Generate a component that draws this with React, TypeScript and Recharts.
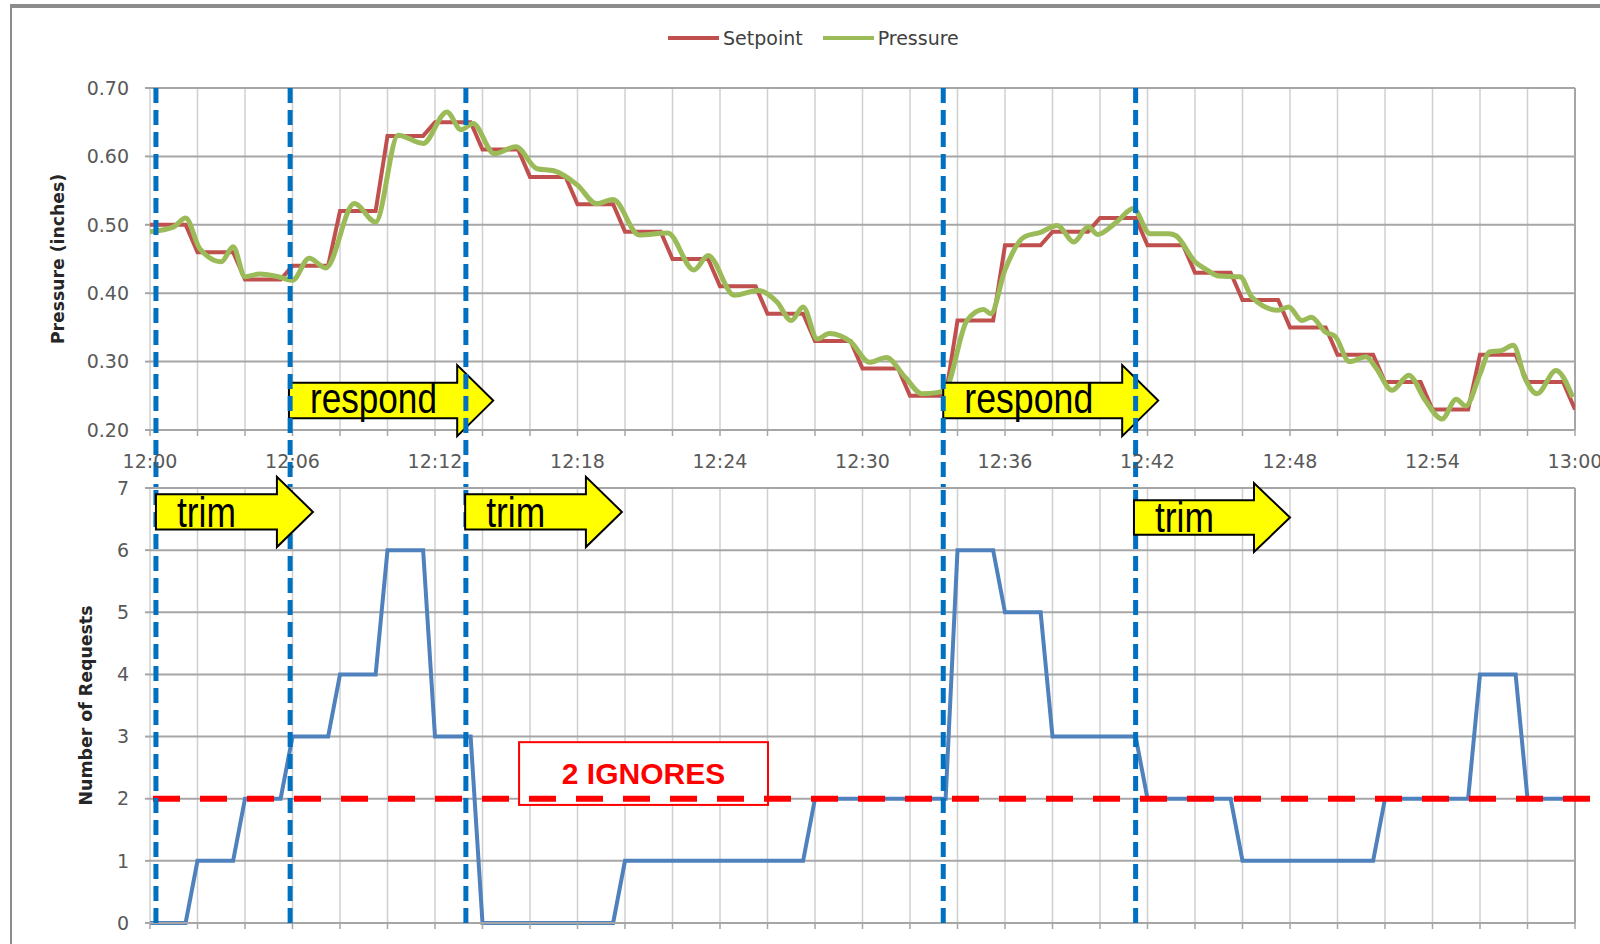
import { CartesianGrid, Line, LineChart, ReferenceArea, ReferenceLine, XAxis, YAxis } from "recharts"

// minutes after 12:00
const gridMinutes = [0, 2, 4, 6, 8, 10, 12, 14, 16, 18, 20, 22, 24, 26, 28, 30, 32, 34, 36, 38, 40, 42, 44, 46, 48, 50, 52, 54, 56, 58, 60]
const labelMinutes = [0, 6, 12, 18, 24, 30, 36, 42, 48, 54, 60]
const timeLabels = ["12:00", "12:06", "12:12", "12:18", "12:24", "12:30", "12:36", "12:42", "12:48", "12:54", "13:00"]
const pressureTicks = [0.2, 0.3, 0.4, 0.5, 0.6, 0.7]
const requestTicks = [0, 1, 2, 3, 4, 5, 6, 7]

// setpoint and request count are logged every 2 minutes
const sampleMinutes = [0, 2, 4, 6, 8, 10, 12, 14, 16, 18, 20, 22, 24, 26, 28, 30, 32, 34, 36, 38, 40, 42, 44, 46, 48, 50, 52, 54, 56, 58, 60]
const setpoint = [0.5, 0.46, 0.42, 0.44, 0.52, 0.63, 0.65, 0.61, 0.57, 0.53, 0.49, 0.45, 0.41, 0.37, 0.33, 0.29, 0.25, 0.36, 0.47, 0.49, 0.51, 0.47, 0.43, 0.39, 0.35, 0.31, 0.27, 0.23, 0.31, 0.27, 0.23]
const requests = [0, 1, 2, 3, 4, 6, 3, 0, 0, 0, 1, 1, 1, 1, 2, 2, 2, 6, 5, 3, 3, 2, 2, 1, 1, 1, 2, 2, 4, 2, 2]

// measured duct pressure
const pressureMinutes = [0, 1, 1.5, 2.1, 3, 3.5, 4, 4.6, 5.4, 6, 6.7, 7.4, 8.6, 9.5, 10.45, 11.5, 12.5, 13.1, 13.6, 14.5, 15.4, 16.3, 17, 18, 18.8, 19.5, 20.6, 21.8, 22.9, 23.5, 24.6, 25.6, 26.4, 27, 27.5, 28.1, 28.6, 29.5, 30.3, 31, 31.8, 32.5, 33.2, 33.5, 34.4, 35.1, 35.4, 36, 36.8, 37.5, 38.2, 38.9, 39.5, 39.9, 40.7, 41.4, 42.1, 42.9, 43.2, 44, 44.5, 45, 45.9, 46.4, 47.5, 47.95, 48.5, 48.9, 49.5, 49.9, 50.5, 51.2, 51.6, 52.3, 53, 53.7, 54.4, 55, 55.4, 56, 56.4, 56.9, 57.4, 57.9, 58.4, 59.2, 59.9]
const pressure = [0.49, 0.497, 0.51, 0.465, 0.446, 0.468, 0.424, 0.428, 0.424, 0.419, 0.451, 0.437, 0.531, 0.504, 0.631, 0.619, 0.665, 0.639, 0.648, 0.604, 0.614, 0.582, 0.579, 0.558, 0.531, 0.537, 0.485, 0.488, 0.434, 0.455, 0.397, 0.404, 0.387, 0.36, 0.38, 0.333, 0.341, 0.329, 0.299, 0.306, 0.277, 0.253, 0.255, 0.26, 0.36, 0.376, 0.37, 0.434, 0.482, 0.489, 0.499, 0.475, 0.497, 0.486, 0.504, 0.524, 0.487, 0.487, 0.484, 0.446, 0.434, 0.425, 0.424, 0.394, 0.375, 0.38, 0.36, 0.365, 0.343, 0.337, 0.3, 0.307, 0.292, 0.258, 0.28, 0.243, 0.216, 0.245, 0.235, 0.282, 0.314, 0.316, 0.324, 0.275, 0.253, 0.287, 0.248]

// trim & respond phase boundaries (minutes)
const phaseMinutes = [0.25, 5.9, 13.3, 33.4, 41.5]
const ignoreThreshold = 2
const ignoreLabel = "2 IGNORES"

const respondArrows = [
  { x1: 5.85, x2: 14.45, y1: 0.191, y2: 0.295, text: "respond", textWidth: 127 },
  { x1: 33.4, x2: 42.45, y1: 0.191, y2: 0.295, text: "respond", textWidth: 129 },
]
const trimArrows = [
  { x1: 0.25, x2: 6.86, y1: 6.05, y2: 7.18, text: "trim", textWidth: 59 },
  { x1: 13.27, x2: 19.87, y1: 6.05, y2: 7.18, text: "trim", textWidth: 59 },
  { x1: 41.43, x2: 48.0, y1: 5.97, y2: 7.08, text: "trim", textWidth: 59 },
]

const pressureSeries = [
  { key: "setpoint", name: "Setpoint", color: "#C0504D" },
  { key: "pressure", name: "Pressure", color: "#9BBB59" },
]

// each logged value is held, then ramps into the next sample over the last half minute
const HOLD = 1.5
function stepRows(values: number[], key: string) {
  const rows: any[] = []
  sampleMinutes.forEach((m, i) => {
    rows.push({ minute: m, [key]: values[i] })
    if (i < sampleMinutes.length - 1) rows.push({ minute: m + HOLD, [key]: values[i] })
  })
  return rows
}

const setpointRows = stepRows(setpoint, "setpoint")
const requestRows = stepRows(requests, "requests")
const pressureRows = pressureMinutes.map((m, i) => ({ minute: m, pressure: pressure[i] }))

const tickFont = { fontSize: 19, fill: "#595959", fontFamily: "DejaVu Sans" }
const PHASE_BLUE = "#0070C0"

function timeLabel(m: number) {
  const i = labelMinutes.indexOf(m)
  return i >= 0 ? timeLabels[i] : ""
}

function AxisTitle(props: any) {
  const { viewBox, text, cx, length } = props
  const cy = viewBox.y + viewBox.height / 2
  return (
    <text
      x={cx}
      y={cy}
      transform={`rotate(-90 ${cx} ${cy})`}
      textAnchor="middle"
      dominantBaseline="central"
      fontFamily="DejaVu Sans"
      fontWeight="bold"
      fontSize={17}
      fill="#262626"
      textLength={length}
      lengthAdjust="spacingAndGlyphs"
    >
      {text}
    </text>
  )
}

// phase line in the pressure panel runs on down through the time labels
function PhaseLineDown(p: any) {
  const top = Math.min(p.y1, p.y2)
  const bottom = Math.max(p.y1, p.y2) + 58
  return <line x1={p.x1} y1={top} x2={p.x2} y2={bottom} stroke={PHASE_BLUE} strokeWidth={5} strokeDasharray="15 7" />
}

function ArrowShape(props: any) {
  const { x, y, width, height, text, textWidth, baseline } = props
  const head = 36
  const neck = x + width - head
  const top = y + height * 0.25
  const bottom = y + height * 0.75
  const pts = [
    [x, top],
    [neck, top],
    [neck, y],
    [x + width, y + height / 2],
    [neck, y + height],
    [neck, bottom],
    [x, bottom],
  ]
    .map((p) => p.join(","))
    .join(" ")
  return (
    <g>
      <polygon points={pts} fill="#FFFF00" stroke="#000" strokeWidth={2} strokeLinejoin="miter" />
      <text
        x={x + 21}
        y={y + height * baseline}
        fontFamily="Liberation Sans"
        fontSize={42}
        fill="#000"
        textLength={textWidth}
        lengthAdjust="spacingAndGlyphs"
      >
        {text}
      </text>
    </g>
  )
}

function IgnoreBox(props: any) {
  const { x, y, width, height } = props
  return (
    <g>
      <rect x={x} y={y} width={width} height={height} fill="#fff" stroke="#FF0000" strokeWidth={2} />
      <text
        x={x + width / 2}
        y={y + height / 2}
        textAnchor="middle"
        dominantBaseline="central"
        fontFamily="Liberation Sans"
        fontWeight="bold"
        fontSize={30}
        fill="#FF0000"
      >
        {ignoreLabel}
      </text>
    </g>
  )
}

function PressureChart() {
  return (
    <LineChart width={1600} height={490} margin={{ top: 88, right: 25, left: 0, bottom: 0 }}>
      <CartesianGrid horizontal={false} stroke="#d0d0d0" strokeWidth={1.5} zIndex={-100} />
      <CartesianGrid vertical={false} stroke="#a6a6a6" strokeWidth={2} zIndex={-90} />
      <XAxis
        type="number"
        dataKey="minute"
        domain={[0, 60]}
        ticks={gridMinutes}
        interval={0}
        allowDataOverflow
        height={60}
        tickFormatter={timeLabel}
        tick={tickFont}
        tickSize={6}
        tickMargin={19}
        axisLine={{ stroke: "#a6a6a6", strokeWidth: 2 }}
        tickLine={{ stroke: "#a6a6a6", strokeWidth: 1.5 }}
      />
      <YAxis
        type="number"
        domain={[0.2, 0.7]}
        ticks={pressureTicks}
        interval={0}
        width={150}
        tickFormatter={(v: number) => v.toFixed(2)}
        tick={tickFont}
        tickSize={5}
        tickMargin={16}
        axisLine={false}
        tickLine={{ stroke: "#a6a6a6", strokeWidth: 2 }}
        label={<AxisTitle text="Pressure (inches)" cx={58} length={170} />}
      />
      <ReferenceLine x={60} stroke="#a6a6a6" strokeWidth={2} zIndex={-80} />
      <Line
        data={setpointRows}
        dataKey="setpoint"
        name={pressureSeries[0].name}
        type="linear"
        stroke={pressureSeries[0].color}
        strokeWidth={4}
        dot={false}
        isAnimationActive={false}
        zIndex={400}
      />
      <Line
        data={pressureRows}
        dataKey="pressure"
        name={pressureSeries[1].name}
        type="monotone"
        stroke={pressureSeries[1].color}
        strokeWidth={5}
        dot={false}
        isAnimationActive={false}
        zIndex={410}
      />
      {respondArrows.map((a, i) => (
        <ReferenceArea
          key={`r${i}`}
          x1={a.x1}
          x2={a.x2}
          y1={a.y1}
          y2={a.y2}
          ifOverflow="visible"
          zIndex={500}
          shape={(p: any) => <ArrowShape {...p} text={a.text} textWidth={a.textWidth} baseline={0.68} />}
        />
      ))}
      {phaseMinutes.map((m) => (
        <ReferenceLine key={m} x={m} stroke={PHASE_BLUE} strokeWidth={5} strokeDasharray="15 7" zIndex={600} shape={PhaseLineDown} />
      ))}
    </LineChart>
  )
}

function RequestsChart() {
  return (
    <LineChart width={1600} height={474} margin={{ top: 12, right: 25, left: 0, bottom: 0 }}>
      <CartesianGrid horizontal={false} stroke="#d0d0d0" strokeWidth={1.5} zIndex={-100} />
      <CartesianGrid vertical={false} stroke="#a6a6a6" strokeWidth={2} zIndex={-90} />
      <XAxis
        type="number"
        dataKey="minute"
        domain={[0, 60]}
        ticks={gridMinutes}
        interval={0}
        allowDataOverflow
        height={21}
        tickFormatter={() => ""}
        tickSize={6}
        axisLine={{ stroke: "#a6a6a6", strokeWidth: 2 }}
        tickLine={{ stroke: "#a6a6a6", strokeWidth: 1.5 }}
      />
      <XAxis
        xAxisId="top"
        orientation="top"
        type="number"
        dataKey="minute"
        domain={[0, 60]}
        ticks={gridMinutes}
        interval={0}
        height={6}
        tickFormatter={() => ""}
        tickSize={6}
        axisLine={false}
        tickLine={{ stroke: "#c0c0c0", strokeWidth: 1.5 }}
      />
      <YAxis
        type="number"
        domain={[0, 7]}
        ticks={requestTicks}
        interval={0}
        width={150}
        tick={tickFont}
        tickSize={5}
        tickMargin={16}
        axisLine={false}
        tickLine={{ stroke: "#a6a6a6", strokeWidth: 2 }}
        label={<AxisTitle text="Number of Requests" cx={86} length={200} />}
      />
      <ReferenceLine x={60} stroke="#a6a6a6" strokeWidth={2} zIndex={-80} />
      <ReferenceArea x1={15.54} x2={26.02} y1={1.9} y2={2.91} ifOverflow="visible" zIndex={300} shape={(p: any) => <IgnoreBox {...p} />} />
      <Line
        data={requestRows}
        dataKey="requests"
        name="Requests"
        type="linear"
        stroke="#4F81BD"
        strokeWidth={4}
        dot={false}
        isAnimationActive={false}
        zIndex={400}
      />
      <ReferenceLine
        y={ignoreThreshold}
        stroke="#FF0000"
        strokeWidth={6}
        strokeDasharray="27 20"
        zIndex={450}
        shape={(p: any) => (
          <line
            x1={Math.min(p.x1, p.x2) + 3}
            y1={p.y1}
            x2={Math.max(p.x1, p.x2) + 18}
            y2={p.y2}
            stroke="#FF0000"
            strokeWidth={6}
            strokeDasharray="27 20"
          />
        )}
      />
      {phaseMinutes.map((m) => (
        <ReferenceLine key={m} x={m} stroke={PHASE_BLUE} strokeWidth={5} strokeDasharray="15 7" zIndex={600} />
      ))}
      {trimArrows.map((a, i) => (
        <ReferenceArea
          key={`t${i}`}
          x1={a.x1}
          x2={a.x2}
          y1={a.y1}
          y2={a.y2}
          ifOverflow="visible"
          zIndex={700}
          shape={(p: any) => <ArrowShape {...p} text={a.text} textWidth={a.textWidth} baseline={0.71} />}
        />
      ))}
    </LineChart>
  )
}

export default function App() {
  return (
    <div style={{ position: "absolute", left: 0, top: 0, width: 1600, height: 944, background: "#fff", overflow: "hidden" }}>
      <div
        style={{
          position: "absolute",
          left: 10,
          top: 4,
          width: 1600,
          height: 960,
          borderTop: "4px solid #8c8c8c",
          borderLeft: "2px solid #8c8c8c",
        }}
      />
      <div
        style={{
          position: "absolute",
          left: 668,
          top: 27,
          display: "flex",
          alignItems: "center",
          fontFamily: "DejaVu Sans",
          fontSize: 19,
          color: "#404040",
        }}
      >
        {pressureSeries.map((s) => (
          <div key={s.key} style={{ display: "flex", alignItems: "center", marginRight: 20 }}>
            <span style={{ display: "inline-block", width: 51, height: 4, background: s.color, marginRight: 4 }} />
            <span>{s.name}</span>
          </div>
        ))}
      </div>
      <div style={{ position: "absolute", left: 0, top: 0 }}>
        <PressureChart />
      </div>
      <div style={{ position: "absolute", left: 0, top: 470 }}>
        <RequestsChart />
      </div>
    </div>
  )
}
